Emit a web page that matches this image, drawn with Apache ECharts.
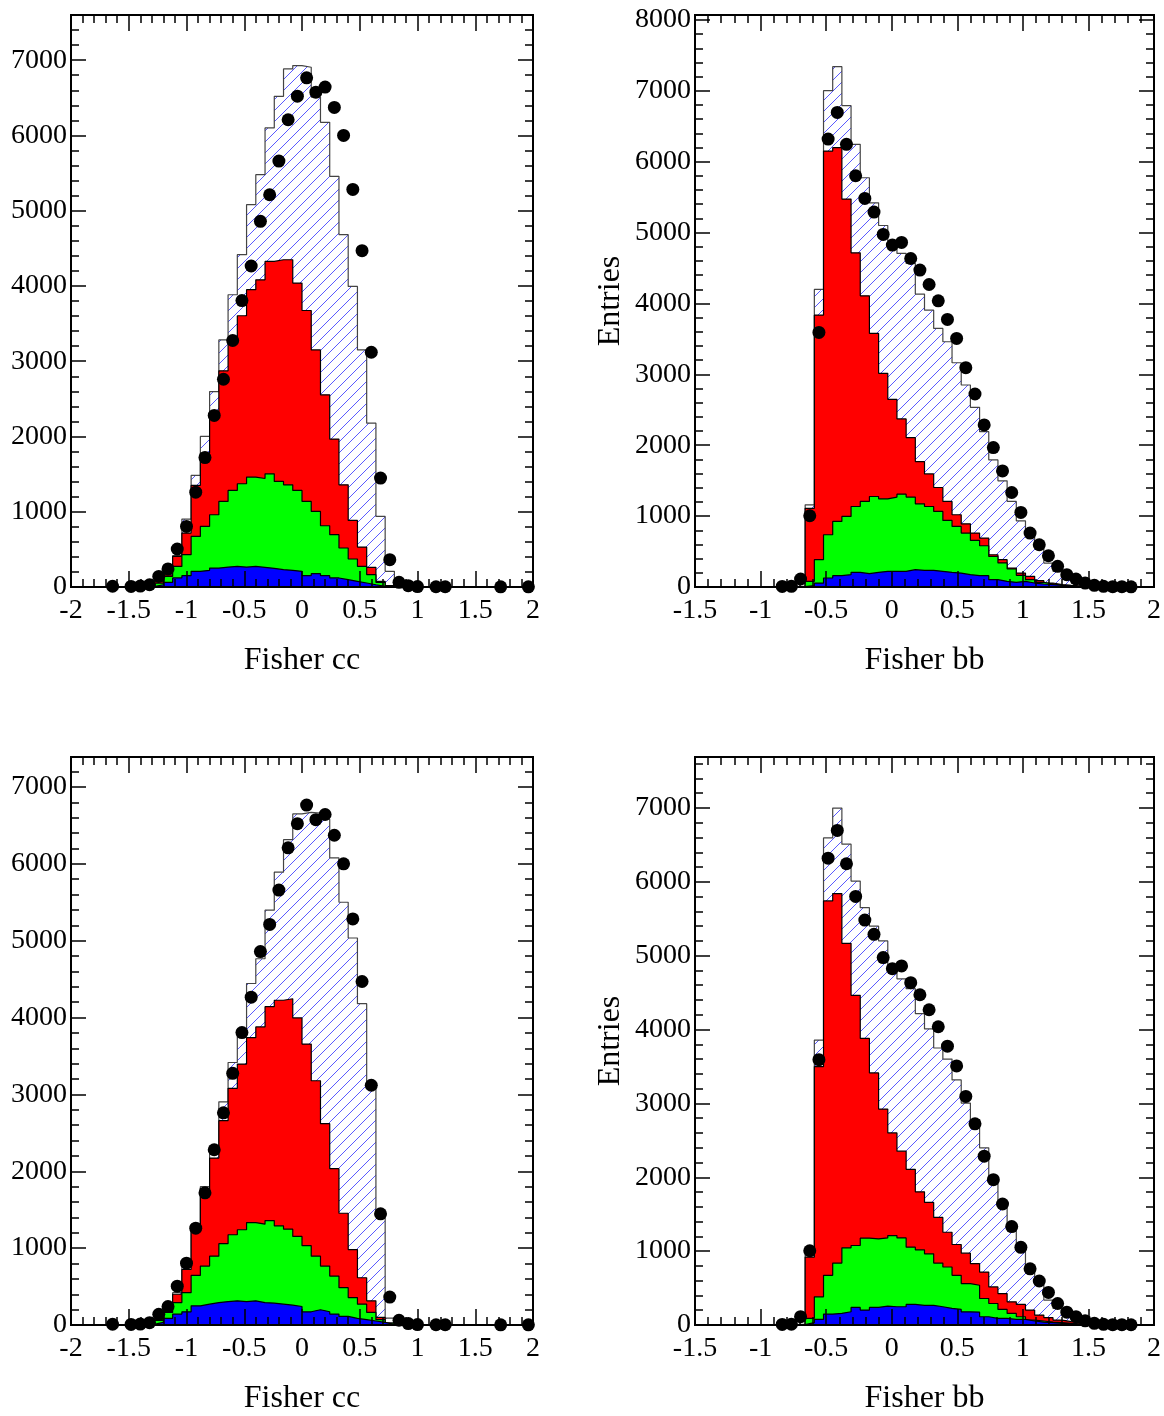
<!DOCTYPE html>
<html><head><meta charset="utf-8">
<script src="https://cdn.jsdelivr.net/npm/echarts@6/dist/echarts.min.js"></script>
<style>html,body{margin:0;padding:0;background:#fff}#c{width:1164px;height:1416px}</style>
</head><body><div id="c"></div>
<script>
// ---------- data (cumulative stack heights per bin, 50 bins) ----------
const ccTopBlue  = [0,0,0,0,0,0,0,0,5,30, 62,120,150,208,221,252,265,274,265,274, 261,248,230,221,208,150,177,150,120,97, 75,53,30,9,0,0,0,0,0,0, 0,0,0,0,0,0,0,0,0,0];
const ccTopGreen = [0,0,0,0,0,0,0,0,8,50, 140,274,430,672,805,960,1137,1283,1372,1460, 1442,1504,1403,1358,1283,1137,1004,814,695,518, 372,274,164,62,18,0,0,0,0,0, 0,0,0,0,0,0,0,0,0,0];
const ccTopRed   = [0,0,0,0,0,0,0,0,10,70, 160,407,717,1350,1780,2288,2872,3250,3604,3950, 4082,4326,4348,4348,4038,3674,3150,2553,1965,1358, 885,531,261,75,18,0,0,0,0,0, 0,0,0,0,0,0,0,0,0,0];
const ccTopTotal = [0,0,0,0,0,0,0,5,18,62, 186,416,903,1482,2000,2597,3283,3883,4415,5080, 5479,6099,6520,6884,6928,6906,6510,6174,5456,4681, 3993,3150,2177,938,208,0,0,0,0,0, 0,0,0,0,0,0,0,0,0,0];

const ccBotBlue  = [0,0,0,0,0,0,0,0,8,34, 86,142,172,249,271,292,305,314,305,314, 292,284,271,258,241,172,198,172,142,112, 86,69,52,34,8,0,0,0,0,0, 0,0,0,0,0,0,0,0,0,0];
const ccBotGreen = [0,0,0,0,0,0,0,0,12,60, 163,292,421,645,766,895,1058,1174,1239,1333, 1312,1359,1290,1247,1153,1032,895,766,637,486, 357,271,163,69,26,0,0,0,0,0, 0,0,0,0,0,0,0,0,0,0];
const ccBotRed   = [0,0,0,0,0,0,0,0,15,75, 180,400,722,1260,1776,2172,2658,3079,3395,3738, 3878,4142,4225,4245,3995,3655,3178,2620,2034,1454, 981,615,314,99,26,0,0,0,0,0, 0,0,0,0,0,0,0,0,0,0];
const ccBotTotal = [0,0,0,0,0,0,0,5,26,77, 206,421,809,1310,1800,2230,2903,3415,3850,4443, 4765,5397,5892,6314,6650,6670,6660,6580,6077,5500, 5035,4180,3088,1454,90,0,0,0,0,0, 0,0,0,0,0,0,0,0,0,0];

const ccData = [null,null,null,null,10,null,8,12,30,140, 240,505,805,1260,1720,2280,2760,3275,3805,4265, 4858,5212,5659,6208,6522,6765,6575,6642,6372,6000, 5283,4469,3119,1447,363,62,18,5,null,3, 3,null,null,null,null,null,2,null,null,2];

const bbTopBlue  = [0,0,0,0,0,0,0,0,0,0, 0,5,19,56,127,160,174,207,188,207, 221,221,221,244,235,235,221,207,197,174, 160,160,103,80,66,80,56,42,33,23, 14,9,5,0,0,0,0,0,0,0];
const bbTopGreen = [0,0,0,0,0,0,0,0,0,0, 0,8,80,385,737,925,995,1136,1207,1277, 1244,1268,1310,1268,1174,1136,1066,939,854,761, 657,582,432,340,255,165,103,66,42,28, 19,9,5,0,0,0,0,0,0,0];
const bbTopRed   = [0,0,0,0,0,0,0,0,0,0, 0,10,1110,3836,6150,6198,5473,4715,4108,3577, 3014,2648,2371,2108,1770,1596,1404,1207,1019,892, 761,690,455,385,268,197,150,89,56,33, 23,14,5,0,0,0,0,0,0,0];
const bbTopTotal = [0,0,0,0,0,0,0,0,0,0, 5,12,1160,4198,7002,7341,6791,6245,5774,5420, 5100,4880,4706,4565,4132,3906,3648,3460,3164,2850, 2535,2192,1793,1498,1207,934,761,549,338,221, 113,56,28,14,5,0,0,0,0,0];

const bbBotBlue  = [0,0,0,0,0,0,0,0,0,0, 0,5,31,76,148,157,179,238,202,238, 256,247,247,278,265,265,247,224,211,179, 175,112,90,90,76,76,54,40,31,22, 18,13,5,0,0,0,0,0,0,0];
const bbBotGreen = [0,0,0,0,0,0,0,0,0,0, 0,8,90,381,673,839,1045,1076,1175,1166, 1179,1211,1179,1054,1018,964,839,785,673,561, 538,359,291,211,157,112,67,54,40,31, 22,13,5,0,0,0,0,0,0,0];
const bbBotRed   = [0,0,0,0,0,0,0,0,0,0, 0,10,919,3499,5742,5841,5168,4463,3880,3413, 2924,2601,2354,2108,1803,1659,1457,1256,1090,973, 830,717,516,426,314,278,202,135,99,67, 45,31,18,13,0,0,0,0,0,0];
const bbBotTotal = [0,0,0,0,0,0,0,0,0,0, 5,12,960,3857,6595,6998,6510,6010,5650,5400, 5200,4867,4687,4553,4216,4008,3750,3600,3318,3004, 2780,2399,1996,1682,1368,1031,740,560,336,224, 121,67,40,22,13,0,0,0,0,0];

const bbData = [null,null,null,null,null,null,null,null,null,8, 10,113,1005,3592,6320,6696,6245,5802,5482,5289, 4974,4824,4861,4635,4471,4268,4038,3775,3507,3094, 2723,2286,1967,1638,1333,1052,761,596,441,291, 174,113,56,23,9,5,5,3,null,null];

const xTitles = ['Fisher cc', 'Fisher bb', 'Fisher cc', 'Fisher bb'];
const yTitles = ['', 'Entries', '', 'Entries'];
const xRanges = [[-2, 2], [-1.5, 2], [-2, 2], [-1.5, 2]];
const yMaxes = [7600, 8070, 7390, 7690];

// ---------- layout ----------
const FONT = 'Liberation Serif';
const panels = [
  {left: 71,  top: 15,  width: 462, height: 572, blue: ccTopBlue, green: ccTopGreen, red: ccTopRed, total: ccTopTotal, data: ccData},
  {left: 695, top: 15,  width: 460, height: 572, blue: bbTopBlue, green: bbTopGreen, red: bbTopRed, total: bbTopTotal, data: bbData},
  {left: 71,  top: 757, width: 462, height: 572, blue: ccBotBlue, green: ccBotGreen, red: ccBotRed, total: ccBotTotal, data: ccData},
  {left: 695, top: 757, width: 460, height: 571, blue: bbBotBlue, green: bbBotGreen, red: bbBotRed, total: bbBotTotal, data: bbData}
];

function hatchCanvas() {
  const c = document.createElement('canvas');
  c.width = 11; c.height = 11;
  const g = c.getContext('2d');
  g.fillStyle = '#ffffff'; g.fillRect(0, 0, 11, 11);
  g.strokeStyle = '#5a5aff'; g.lineWidth = 1;
  g.beginPath(); g.moveTo(-1, 12); g.lineTo(12, -1); g.stroke();
  return c;
}
const hatch = hatchCanvas();

const grids = [], xAxes = [], yAxes = [], series = [];
const tickStyle = {color: '#000', width: 1.5};
const lineStyleAxis = {color: '#000', width: 2};

panels.forEach((p, i) => {
  const [xmin, xmax] = xRanges[i];
  const ymax = yMaxes[i];
  grids.push({left: p.left, top: p.top, width: p.width, height: p.height, containLabel: false});
  const xBase = {gridIndex: i, type: 'value', min: xmin, max: xmax, interval: 0.5, z: 6,
    axisLine: {show: true, onZero: false, lineStyle: lineStyleAxis},
    axisTick: {show: true, inside: true, length: 16, lineStyle: tickStyle},
    minorTick: {show: true, splitNumber: 5, length: 8, lineStyle: tickStyle},
    splitLine: {show: false}, minorSplitLine: {show: false}};
  xAxes.push(Object.assign({}, xBase, {position: 'bottom',
    axisLabel: {show: true, margin: 10, fontFamily: FONT, fontSize: 28, color: '#000',
      formatter: v => String(+(+v).toFixed(2))},
    name: xTitles[i], nameLocation: 'middle', nameGap: 58,
    nameTextStyle: {fontFamily: FONT, fontSize: 32, color: '#000'}}));
  xAxes.push(Object.assign({}, xBase, {position: 'top', axisLabel: {show: false}}));
  const yBase = {gridIndex: i, type: 'value', min: 0, max: ymax, z: 6,
    axisLine: {show: true, onZero: false, lineStyle: lineStyleAxis},
    splitLine: {show: false}};
  yAxes.push(Object.assign({}, yBase, {position: 'left', interval: 1000,
    axisTick: {show: true, inside: true, length: 15, lineStyle: tickStyle},
    axisLabel: {show: true, margin: 4, fontFamily: FONT, fontSize: 28, color: '#000',
      formatter: v => (v % 1000 === 0 ? String(v) : '')},
    name: yTitles[i], nameLocation: 'middle', nameGap: 68, nameRotate: 90,
    nameTextStyle: {fontFamily: FONT, fontSize: 32, color: '#000'}}));
  yAxes.push(Object.assign({}, yBase, {position: 'left', interval: 200,
    axisTick: {show: true, inside: true, length: 8, lineStyle: tickStyle},
    axisLabel: {show: false}}));
  yAxes.push(Object.assign({}, yBase, {position: 'right', interval: 1000,
    axisTick: {show: true, inside: true, length: 15, lineStyle: tickStyle},
    axisLabel: {show: false}}));
  yAxes.push(Object.assign({}, yBase, {position: 'right', interval: 200,
    axisTick: {show: true, inside: true, length: 8, lineStyle: tickStyle},
    axisLabel: {show: false}}));

  const nb = p.total.length;
  const w = (xmax - xmin) / nb;
  const edge = k => +(xmin + k * w).toFixed(5);
  const steps = arr => {
    const d = arr.map((v, k) => [edge(k), v]);
    d.push([edge(nb), arr[nb - 1]]);
    return d;
  };
  const common = {type: 'line', step: 'end', xAxisIndex: 2 * i, yAxisIndex: 4 * i,
    showSymbol: false, symbol: 'none', animation: false, silent: true};
  series.push(Object.assign({}, common, {z: 1, data: steps(p.total),
    lineStyle: {color: '#444', width: 1.2}, areaStyle: {color: {image: hatch, repeat: 'repeat'}, opacity: 1}}));
  series.push(Object.assign({}, common, {z: 2, data: steps(p.red),
    lineStyle: {color: '#000', width: 1.2}, areaStyle: {color: '#ff0000', opacity: 1}}));
  series.push(Object.assign({}, common, {z: 3, data: steps(p.green),
    lineStyle: {color: '#000', width: 1.2}, areaStyle: {color: '#00ff00', opacity: 1}}));
  series.push(Object.assign({}, common, {z: 4, data: steps(p.blue),
    lineStyle: {color: '#000', width: 1.2}, areaStyle: {color: '#0000ff', opacity: 1}}));
  const pts = [];
  p.data.forEach((v, k) => { if (v !== null) pts.push([+(xmin + (k + 0.5) * w).toFixed(5), v]); });
  series.push({type: 'scatter', xAxisIndex: 2 * i, yAxisIndex: 4 * i, z: 10, animation: false,
    symbol: 'circle', symbolSize: 13, itemStyle: {color: '#000', opacity: 1}, data: pts});
});

const chart = echarts.init(document.getElementById('c'), null, {renderer: 'canvas'});
chart.setOption({backgroundColor: '#fff', animation: false, grid: grids, xAxis: xAxes, yAxis: yAxes, series: series});
</script></body></html>
